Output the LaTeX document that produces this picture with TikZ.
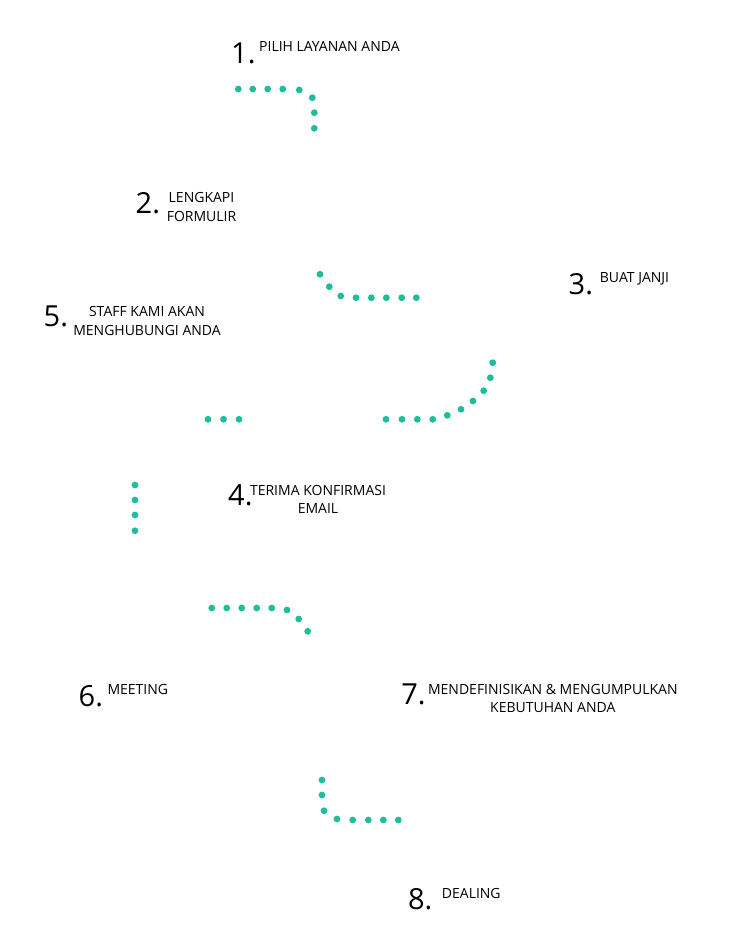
\documentclass[tikz,border=0pt]{standalone}
\usepackage{fontspec}
\setmainfont{Open Sans}
\definecolor{dotc}{RGB}{30,190,155}
\tikzset{
  num/.style={inner sep=0pt, anchor=base west, font=\fontsize{29}{30}\selectfont},
  lbl/.style={inner sep=0pt, font=\fontsize{14}{19}\selectfont},
  lblw/.style={lbl, anchor=base west},
  lblc/.style={lbl, anchor=base, align=center},
  dot/.style={fill=dotc}
}
\begin{document}
\begin{tikzpicture}[x=1pt,y=-1pt]
\useasboundingbox (0,0) rectangle (735,943);
% texts
\node[num] (n1) at (231,63.3) {1.};
\node[lblw] (l1) at (259,51.7) {PILIH LAYANAN ANDA};
\node[num] (n2) at (135.5,213.3) {2.};
\node[lblc] (l2) at (201.5,221.7) {LENGKAPI\\FORMULIR};
\node[num] (n3) at (568.5,294) {3.};
\node[lblw] (l3) at (599.7,282.7) {BUAT JANJI};
\node[num] (n5) at (43.5,326.7) {5.};
\node[lblc] (l5) at (147,335) {STAFF KAMI AKAN\\MENGHUBUNGI ANDA};
\node[num] (n4) at (228,505) {4.};
\node[lblc,font=\fontsize{14}{18.3}\selectfont] (l4) at (318,513.3) {TERIMA KONFIRMASI\\EMAIL};
\node[num] (n6) at (78.5,706) {6.};
\node[lblw] (l6) at (107.3,694) {MEETING};
\node[num] (n7) at (401.2,704.3) {7.};
\node[lblc,font=\fontsize{14}{18.3}\selectfont] (l7) at (552.8,712.3) {MENDEFINISIKAN \& MENGUMPULKAN\\KEBUTUHAN ANDA};
\node[num] (n8) at (407.8,909) {8.};
\node[lblw] (l8) at (441.7,898.3) {DEALING};
% dots
\foreach \x/\y in {238.3/89,252.7/89,267.7/89,282.7/89,299.3/90,312.3/97.7,314.3/112.7,314.3/128.3,
  320/274.3,329.3/286.7,340.7/296,356/297.7,371.3/297.7,386.3/297.7,401.7/297.7,416.3/297.7,
  386/419.3,402/419.3,417.3/419.3,432.7/419.3,447.3/415.3,461/409.3,473/401,483.7/390.7,490.3/377.7,492.7/362.7,
  208/419.3,223.5/419.3,239/419.3,
  135/485,135/500,135/515,135/530.7,
  211.7/608,226.7/608,241.7/608,256.7/608,271.7/608,287/610,298.7/619,307.7/631.3,
  322/780,322/795,324/810.7,337/819,352.7/820,368.3/820,383.3/820,398.3/820}
  \fill[dot] (\x,\y) circle (3.4);
\end{tikzpicture}
\end{document}
